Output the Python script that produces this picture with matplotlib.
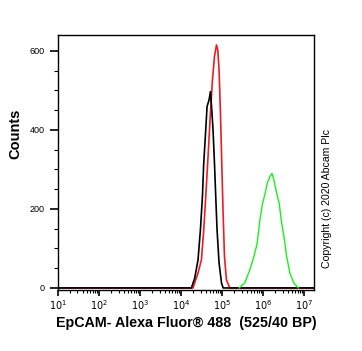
import matplotlib
matplotlib.use("Agg")
import matplotlib.pyplot as plt
import matplotlib.transforms as mtrans
import numpy as np

plt.rcParams['font.family'] = ['Liberation Sans', 'DejaVu Sans']

# log10 of fluorescence intensity vs counts
black_log = [1.0, 4.254, 4.335, 4.416, 4.474, 4.523, 4.555, 4.604, 4.636, 4.685,
             4.719, 4.751, 4.782, 4.817, 4.848, 4.880, 4.929, 4.988, 5.027, 7.24]
black_cnt = [0, 0, 25, 71, 147, 231, 316, 400, 459, 476,
             497, 451, 400, 316, 231, 147, 63, 13, 0, 0]

red_log = [1.0, 4.293, 4.416, 4.499, 4.555, 4.604, 4.660, 4.719, 4.768, 4.817,
           4.866, 4.897, 4.929, 4.963, 4.995, 5.027, 5.061, 5.110, 5.191, 7.24]
red_cnt = [0, 0, 38, 71, 147, 231, 332, 443, 527, 586,
           615, 603, 552, 443, 316, 190, 79, 20, 0, 0]

green_log = [5.418, 5.557, 5.680, 5.777, 5.858, 5.924, 5.990, 6.054, 6.103, 6.169,
             6.218, 6.267, 6.333, 6.396, 6.445, 6.511, 6.577, 6.658, 6.756, 6.861]
green_cnt = [0, 13, 46, 79, 113, 172, 214, 240, 265, 282,
             290, 273, 240, 214, 172, 130, 79, 37, 12, 0]

decades = [1, 2, 3, 4, 5, 6, 7]
y_major = [0, 200, 400, 600]

fig = plt.figure(figsize=(3.62, 3.51), dpi=100)
ax = fig.add_axes([0.160, 0.174, 0.707, 0.726])

ax.plot(10 ** np.array(red_log), red_cnt, color='#ec1c24', linewidth=1.2)
ax.plot(10 ** np.array(black_log), black_cnt, color='black', linewidth=1.2)
ax.plot(10 ** np.array(green_log), green_cnt, color='#19f019', linewidth=1.0)

ax.set_xscale('log')
ax.set_xlim(10 ** 1, 10 ** 7.24)
ax.set_ylim(-5, 640)

ax.set_xticks([10 ** d for d in decades])
ax.set_xticklabels(['$10^{%d}$' % d for d in decades], fontsize=7)
minors = [m * 10 ** d for d in range(1, 7) for m in range(2, 10)]
ax.set_xticks(minors, minor=True)
ax.set_xticklabels([], minor=True)
offset = mtrans.ScaledTranslation(7 / 100.0, 0, fig.dpi_scale_trans)
for lab in ax.get_xticklabels():
    lab.set_transform(lab.get_transform() + offset)

ax.set_yticks(y_major)
ax.set_yticklabels([str(v) for v in y_major], fontsize=6.5)
ax.set_yticks(np.arange(50, 640, 50), minor=True)

ax.tick_params(axis='x', which='major', direction='out', length=4, width=1.2, pad=2)
ax.tick_params(axis='x', which='minor', direction='out', length=2.5, width=0.8)
ax.tick_params(axis='y', which='major', direction='out', length=5.5, width=1.2, pad=4)
ax.tick_params(axis='y', which='minor', direction='out', length=3, width=0.8)
for sp in ax.spines.values():
    sp.set_linewidth(1.0)

ax.set_ylabel('Counts', fontsize=10.5, fontweight='bold')
ax.yaxis.set_label_coords(-0.138, 0.614)
ax.set_xlabel('EpCAM- Alexa Fluor\u00ae 488  (525/40 BP)', fontsize=10.3,
              fontweight='bold', labelpad=3)

fig.text(0.903, 0.433, 'Copyright (c) 2020 Abcam Plc', rotation=90,
         fontsize=7.6, ha='center', va='center')

fig.savefig('out.png', dpi=100)
